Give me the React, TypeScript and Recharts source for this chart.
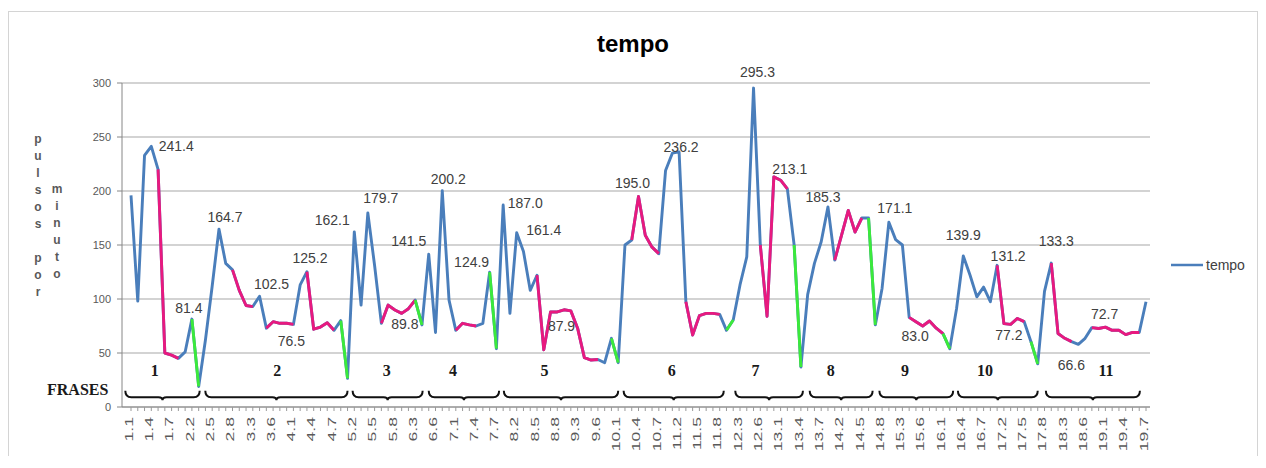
import React from 'react';
import { LineChart, Line, XAxis, YAxis, CartesianGrid, Legend, ReferenceArea, ReferenceDot } from 'recharts';

const tickLabels = ['1.1','1.4','1.7','2.2','2.5','2.8','3.3','3.6','4.1','4.4','4.7','5.2','5.5','5.8','6.3','6.6','7.1','7.4','7.7','8.2','8.5','8.8','9.3','9.6','10.1','10.4','10.7','11.2','11.5','11.8','12.3','12.6','13.1','13.4','13.7','14.2','14.5','14.8','15.3','15.6','16.1','16.4','16.7','17.2','17.5','17.8','18.3','18.6','19.1','19.4','19.7'];

const tempo = [
  196, 98, 233, 241.4, 220, 50, 48, 45, 51, 81.4,
  19, 62, 112, 164.7, 133, 127, 108, 94, 93, 102.5,
  73, 79, 77.5, 77.5, 76.5, 113, 125.2, 72, 74, 78,
  71, 80, 26.5, 162.1, 94.4, 179.7, 131, 77.5, 94.4, 89.8,
  86.7, 91, 99, 76, 141.5, 69, 200.2, 99, 71, 77.5,
  76, 75, 77.5, 124.9, 54, 187.0, 86.7, 161.4, 144, 108,
  122, 53, 87.9, 88, 90, 89, 73, 45.7, 43.5, 44,
  41, 63.6, 41, 150, 154.6, 195.0, 159, 148, 142, 219,
  235, 236.2, 97.5, 66.7, 84.6, 86.7, 86.7, 85.8, 71, 80.5,
  113, 139, 295.3, 150, 84, 213.1, 210, 202, 150, 37,
  104, 133, 153, 185.3, 136, 159, 182, 162, 175, 175,
  76, 110, 171.1, 155, 150, 83.0, 79, 75, 79.6, 73,
  68, 54, 91, 139.9, 122, 102, 111, 97.5, 131.2, 77.2,
  76.5, 82, 79, 60.5, 40, 107, 133.3, 68, 63.6, 60.5,
  58, 63.6, 73.5, 72.7, 74, 71, 71, 67, 69, 69,
  97.5
];

const magentaRanges = [[4,7],[15,18],[20,24],[26,30],[37,42],[48,51],[60,69],[74,78],[82,87],[93,97],[104,108],[115,120],[128,132],[136,139],[142,149]];
const greenRanges = [[9,10],[31,32],[42,43],[53,54],[71,72],[88,89],[98,99],[109,110],[120,121],[133,134]];

const annotationIndex = [3, 9, 13, 19, 24, 26, 33, 35, 39, 44, 46, 53, 55, 57, 62, 75, 81, 92, 95, 103, 112, 115, 123, 128, 129, 136, 140, 143];
const annotationText = ['241.4','81.4','164.7','102.5','76.5','125.2','162.1','179.7','89.8','141.5','200.2','124.9','187.0','161.4','87.9','195.0','236.2','295.3','213.1','185.3','171.1','83.0','139.9','131.2','77.2','133.3','66.6','72.7'];
const annotationOffset = [[25,0],[-3,-11],[6,-12],[12,-12],[-2,17],[3,-14],[-22,-12],[13,-15],[10,14],[-20,-13],[6,-12],[-18,-10],[22,-2],[27,-3],[11,14],[-6,-13],[2,-5],[4,-16],[16,-8],[-5,-10],[6,-14],[6,19],[0,-21],[11,-9],[5,11],[5,-22],[-7,21],[6,-14]];

const phrases = ['1','2','3','4','5','6','7','8','9','10','11'];
const phraseStart = [-0.84, 10.98, 32.75, 44.0, 55.1, 72.8, 89.3, 100.3, 110.6, 122.2, 135.2];
const phraseEnd = [10.15, 32.0, 43.1, 54.4, 72.0, 87.6, 99.3, 109.6, 121.5, 134.0, 149.1];
const phraseLabelAt = [3.5, 21.6, 37.8, 47.6, 61.1, 79.9, 92.3, 103.4, 114.4, 126.2, 144.1];

const yTicks = [0, 50, 100, 150, 200, 250, 300];

const inRanges = (ranges: number[][], i: number) => ranges.some(([a, b]) => i >= a && i <= b);

const data = tempo.map((v, i) => ({
  i,
  tempo: v,
  mag: inRanges(magentaRanges, i) ? v : null,
  grn: inRanges(greenRanges, i) ? v : null,
}));

const allTicks = tempo.map((_, i) => i);

const BLUE = '#4A7EBB';
const MAGENTA = '#E8197F';
const GREEN = '#3BEA3B';
const SANS = '"Liberation Sans", Arial, sans-serif';
const SERIF = '"Liberation Serif", "Times New Roman", serif';

const XTick = (props: any) => {
  const { x, y, payload } = props;
  const v = payload.value;
  if (v % 3 !== 0) return <g />;
  const label = tickLabels[v / 3];
  return (
    <text
      transform={`translate(${x - 2},${y + 4}) rotate(-90) scale(1.6,1)`}
      textAnchor="end"
      dominantBaseline="central"
      fontSize={11}
      fill="#595959"
      fontFamily={SANS}
    >
      {label}
    </text>
  );
};

const AnnotationDot = (props: any) => {
  const { cx, cy, index } = props;
  const k = annotationIndex.indexOf(index);
  if (k < 0) return <g key={`a-${index}`} />;
  const [dx, dy] = annotationOffset[k];
  return (
    <text
      key={`a-${index}`}
      x={cx + dx}
      y={cy + dy}
      textAnchor="middle"
      dominantBaseline="central"
      fontSize={14}
      fill="#404040"
      fontFamily={SANS}
    >
      {annotationText[k]}
    </text>
  );
};

const Brace = (props: any) => {
  const { x, y, width, height } = props;
  const y0 = y;
  const y1 = y + height;
  const mid = x + width / 2;
  const d = `M ${x} ${y0} Q ${x} ${y1} ${x + 6} ${y1} L ${mid - 4} ${y1} Q ${mid} ${y1} ${mid} ${y1 + 3} Q ${mid} ${y1} ${mid + 4} ${y1} L ${x + width - 6} ${y1} Q ${x + width} ${y1} ${x + width} ${y0}`;
  return <path d={d} fill="none" stroke="#111" strokeWidth={2} />;
};

const LegendContent = () => (
  <div style={{ display: 'flex', alignItems: 'center', fontFamily: SANS, fontSize: 14, color: '#404040' }}>
    <svg width={32} height={4} style={{ marginRight: 3 }}>
      <line x1={0} y1={2} x2={32} y2={2} stroke={BLUE} strokeWidth={2.5} />
    </svg>
    <span>tempo</span>
  </div>
);

const letterCol = (letters: string[], left: number, top: number) => (
  <div style={{ position: 'absolute', left, top, width: 16, textAlign: 'center', fontFamily: SANS, fontWeight: 'bold', fontSize: 12, lineHeight: '17px', color: '#595959' }}>
    {letters.map((ch, k) => (
      <div key={k} style={{ height: 17 }}>{ch}</div>
    ))}
  </div>
);

export default function App() {
  return (
    <div style={{ position: 'relative', top: 3, width: 1250, height: 448, border: '1px solid #d4d4d4', boxSizing: 'border-box', background: '#fff' }}>
      <div style={{ position: 'absolute', left: 0, top: 20, width: 1248, textAlign: 'center', fontFamily: SANS, fontWeight: 'bold', fontSize: 24, lineHeight: '24px', color: '#000' }}>
        tempo
      </div>
      {letterCol(['p','u','l','s','o','s','','p','o','r'], 21, 119)}
      {letterCol(['m','i','n','u','t','o'], 40, 169)}
      <div style={{ position: 'absolute', left: 38, top: 369, fontFamily: SERIF, fontWeight: 'bold', fontSize: 16, lineHeight: '18px', color: '#1a1a1a' }}>
        FRASES
      </div>
      <LineChart width={1248} height={446} data={data} margin={{ top: 71, right: 107, bottom: 0, left: 53 }}>
        <CartesianGrid horizontal vertical={false} stroke="#C4C4C4" strokeWidth={1.5} />
        <XAxis
          type="number"
          dataKey="i"
          domain={[0, 150]}
          ticks={allTicks}
          interval={0}
          padding={{ left: 9, right: 4 }}
          height={51}
          tickSize={4}
          tickMargin={2}
          tick={<XTick />}
          axisLine={{ stroke: '#868686' }}
          tickLine={{ stroke: '#9a9a9a' }}
        />
        <YAxis
          type="number"
          domain={[0, 300]}
          ticks={yTicks}
          width={60}
          tickSize={5}
          tickMargin={6}
          tick={{ fontSize: 11, fill: '#595959', fontFamily: SANS }}
          axisLine={{ stroke: '#868686' }}
          tickLine={{ stroke: '#868686' }}
        />
        {phrases.map((p, k) => (
          <ReferenceArea
            key={`br-${p}`}
            x1={phraseStart[k]}
            x2={phraseEnd[k]}
            y1={9}
            y2={15}
            ifOverflow="visible"
            shape={<Brace />}
          />
        ))}
        {phrases.map((p, k) => (
          <ReferenceDot
            key={`pl-${p}`}
            x={phraseLabelAt[k]}
            y={34}
            r={0}
            ifOverflow="visible"
            shape={(sp: any) => (
              <text x={sp.cx} y={sp.cy} textAnchor="middle" dominantBaseline="central" fontFamily={SERIF} fontWeight="bold" fontSize={16} fill="#1a1a1a">
                {p}
              </text>
            )}
          />
        ))}
        <Line type="linear" dataKey="tempo" name="tempo" stroke={BLUE} strokeWidth={2.9} dot={false} activeDot={false} isAnimationActive={false} strokeLinejoin="round" />
        <Line type="linear" dataKey="mag" stroke={MAGENTA} strokeWidth={2.9} dot={false} activeDot={false} isAnimationActive={false} legendType="none" connectNulls={false} strokeLinejoin="round" />
        <Line type="linear" dataKey="grn" stroke={GREEN} strokeWidth={2.9} dot={false} activeDot={false} isAnimationActive={false} legendType="none" connectNulls={false} strokeLinejoin="round" />
        <Line type="linear" dataKey="tempo" stroke="none" dot={<AnnotationDot />} activeDot={false} isAnimationActive={false} legendType="none" />
        <Legend content={<LegendContent />} layout="horizontal" verticalAlign="middle" align="center" wrapperStyle={{ left: 1162, top: 245, width: 90 }} />
      </LineChart>
    </div>
  );
}
